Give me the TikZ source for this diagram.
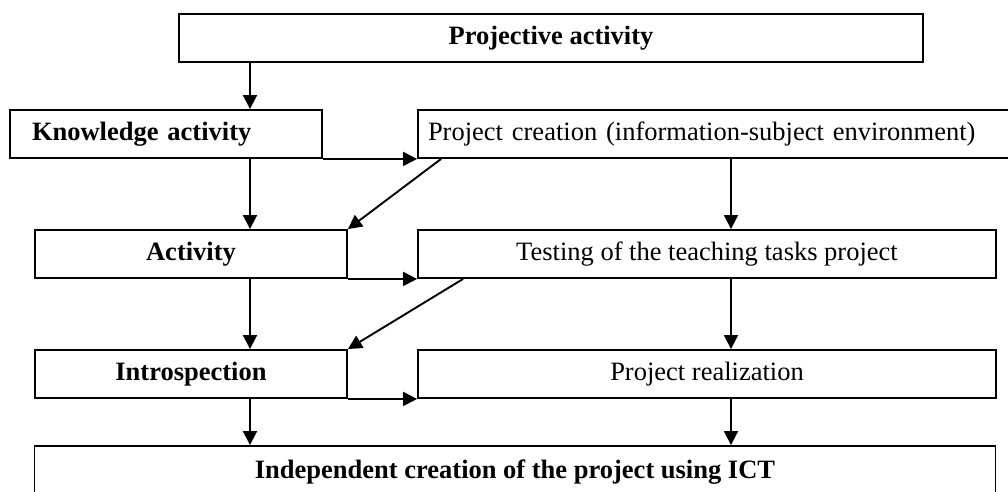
\documentclass[tikz,border=0pt]{standalone}
\usepackage{fontspec}
\setmainfont{Liberation Serif}
\usetikzlibrary{arrows.meta,calc}
\tikzset{
  box/.style={draw,line width=1.9pt,minimum height=48pt,inner sep=0pt,
    font=\fontsize{26.5}{30}\selectfont},
  flow/.style={line width=1.9pt,-{Triangle[length=14pt,width=14pt]}}
}
\begin{document}
\begin{tikzpicture}[x=1pt,y=-1pt]
  \useasboundingbox (0,0) rectangle (1008,491);
  \clip (0,0) rectangle (1008,491);
  \coordinate (lx) at (250,0);
  \coordinate (rx) at (731,0);
  \node[box,minimum width=744pt] (proj) at (551,38) {\bfseries Projective activity};
  \node[box,minimum width=312pt,text width=268pt,inner xsep=22pt,align=left] (know) at (166,134) {\bfseries Knowledge activity};
  \node[box,text width=588pt,inner xsep=10pt,align=left] (create) at (722,134) {Project creation (information-subject environment)};
  \node[box,minimum width=312pt] (act) at (191,254) {\bfseries Activity};
  \node[box,minimum width=578pt] (test) at (707,254) {Testing of the teaching tasks project};
  \node[box,minimum width=312pt] (intro) at (191,374) {\bfseries Introspection};
  \node[box,minimum width=578pt] (real) at (707,374) {Project realization};
  \node[box,minimum width=961pt,minimum height=52pt] (indep) at (515,472) {\bfseries Independent creation of the project using ICT};
  \draw[flow] (proj.south -| lx) -- (know.north -| lx);
  \draw[flow] (know.south -| lx) -- (act.north -| lx);
  \draw[flow] (act.south -| lx) -- (intro.north -| lx);
  \draw[flow] (intro.south -| lx) -- (indep.north -| lx);
  \draw[flow] (create.south -| rx) -- (test.north -| rx);
  \draw[flow] (test.south -| rx) -- (real.north -| rx);
  \draw[flow] (real.south -| rx) -- (indep.north -| rx);
  \draw[flow] (know.south east) -- (create.south west);
  \draw[flow] (act.south east) -- (test.south west);
  \draw[flow] (intro.south east) -- (real.south west);
  \draw[flow] ($(create.south west)+(24,0)$) -- (act.north east);
  \draw[flow] ($(test.south west)+(46,0)$) -- (intro.north east);
\end{tikzpicture}
\end{document}
